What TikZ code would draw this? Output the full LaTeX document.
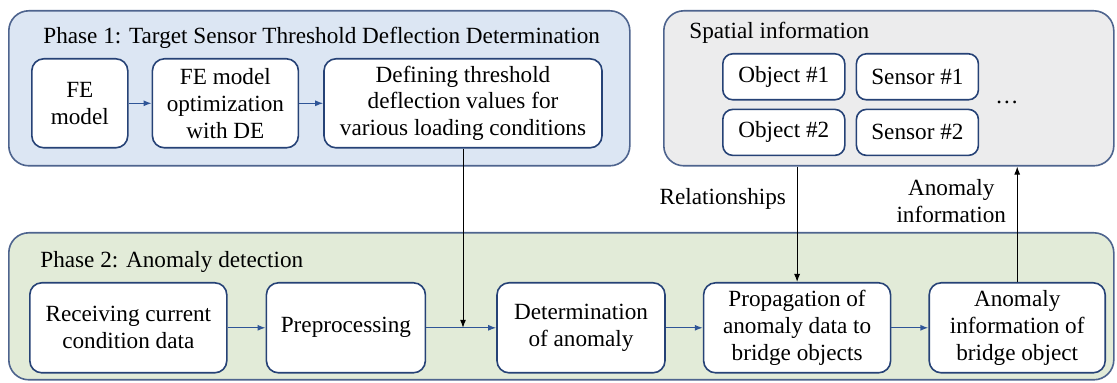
\documentclass[tikz,border=0pt]{standalone}
\usepackage{fontspec}
\setmainfont{Liberation Serif}
\usetikzlibrary{arrows.meta,positioning}
\definecolor{phaseone}{RGB}{220,230,243}
\definecolor{phasetwo}{RGB}{226,235,216}
\definecolor{spatialbg}{RGB}{236,236,237}
\definecolor{rim}{RGB}{78,100,142}
\definecolor{navy}{RGB}{38,66,118}
\definecolor{flow}{RGB}{47,85,151}

\begin{document}
\begin{tikzpicture}[
  x=0.5pt, y=0.5pt,
  font=\rmfamily\fontsize{11.6}{13.4}\selectfont,
  group/.style={draw=rim, line width=0.8pt, rounded corners=10pt, anchor=north west, inner sep=0pt},
  box/.style={draw=navy, fill=white, line width=0.8pt, rounded corners=6pt, align=center, inner sep=2pt, minimum height=44.5pt},
  tag/.style={draw=navy, fill=white, line width=0.8pt, rounded corners=5pt, minimum width=61pt, minimum height=23pt, inner sep=2pt},
  title/.style={anchor=west, inner sep=0pt},
  arr/.style={-{Latex[length=4pt,width=3pt]}, flow, line width=0.6pt},
  varr/.style={-{Latex[length=4pt,width=3pt]}, black, line width=0.5pt},
  node distance=11.5pt
]
\useasboundingbox (0,0) rectangle (1117,-383);

% containers
\node[group, fill=phaseone, minimum width=310.5pt, minimum height=77.5pt] (phase1) at (8,-10) {};
\node[group, fill=spatialbg, minimum width=225pt, minimum height=77.5pt] (spatial) at (663,-10) {};
\node[group, fill=phasetwo, minimum width=552.5pt, minimum height=73.5pt] (phase2) at (8,-232) {};

\node[title] (t1) at ([shift={(17.5pt,-14pt)}]phase1.north west) {Phase 1: Target Sensor Threshold Deflection Determination};
\node[title] (t2) at ([shift={(13pt,-11.5pt)}]spatial.north west) {Spatial information};
\node[title] (t3) at ([shift={(16pt,-15pt)}]phase2.north west) {Phase 2: Anomaly detection};

% phase 1
\node[box, anchor=north west, minimum width=48pt] (fe) at (31,-58) {FE\\model};
\node[box, right=of fe, minimum width=73pt] (feopt) {FE model\\optimization\\with DE};
\node[box, right=12pt of feopt, minimum width=139pt] (thr) {Defining threshold\\deflection values for\\various loading conditions};

% spatial information
\node[tag, anchor=north west] (obj1) at (722,-53) {Object \#1};
\node[tag, right=5pt of obj1] (sen1) {Sensor \#1};
\node[tag, below=4pt of obj1] (obj2) {Object \#2};
\node[tag, below=4pt of sen1] (sen2) {Sensor \#2};
\node (dots) at (1007,-102) {\ldots};

% phase 2
\node[box, anchor=north west, minimum width=98.5pt, minimum height=45pt] (recv) at (29,-282) {Receiving current\\condition data};
\node[box, right=19pt of recv, minimum width=79.5pt, minimum height=45pt] (prep) {Preprocessing};
\node[box, right=35pt of prep, minimum width=84pt, minimum height=45pt] (detm) {Determination\\of anomaly};
\node[box, right=18.5pt of detm, minimum width=93.5pt, minimum height=45pt] (prop) {Propagation of\\anomaly data to\\bridge objects};
\node[box, right=18.5pt of prop, minimum width=88pt, minimum height=45pt] (anom) {Anomaly\\information of\\bridge object};

\draw[arr] (fe) -- (feopt);
\draw[arr] (feopt) -- (thr);
\draw[arr] (recv) -- (prep);
\draw[arr] (prep) -- (detm);
\draw[arr] (detm) -- (prop);
\draw[arr] (prop) -- (anom);

\coordinate (join) at (thr.south |- prep.east);
\draw[varr] (thr.south) -- (join);
\draw[varr] (prop |- spatial.south) -- (prop.north) node[pos=0.28, left=2pt] {Relationships};
\draw[varr] (anom.north) -- (anom |- spatial.south) node[pos=0.7, left=2pt, align=center] {Anomaly\\information};
\end{tikzpicture}
\end{document}
